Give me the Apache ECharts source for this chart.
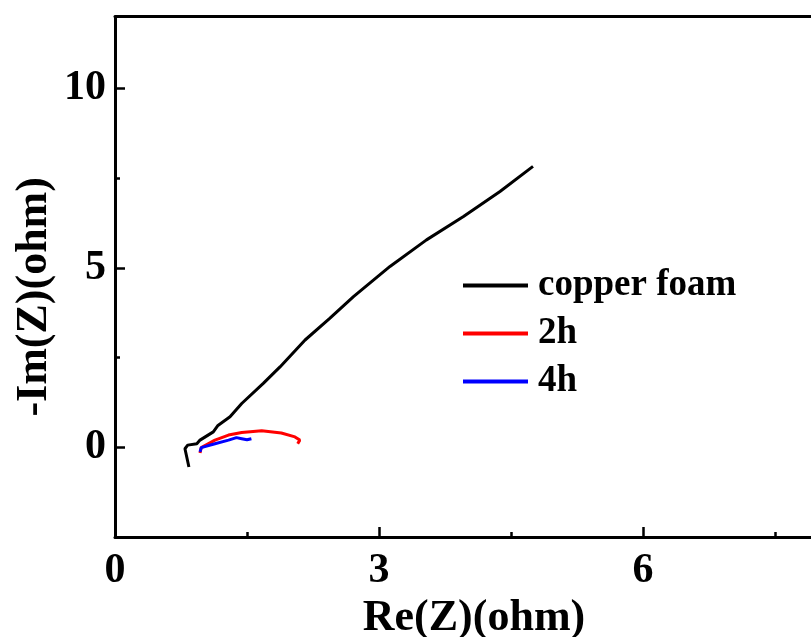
<!DOCTYPE html>
<html>
<head>
<meta charset="utf-8">
<script src="https://cdn.jsdelivr.net/npm/echarts@6/dist/echarts.min.js"></script>
<style>
html,body{margin:0;padding:0;background:#fff;}
#chart{width:811px;height:637px;}
</style>
</head>
<body>
<div id="chart"></div>
<script>
// Data
var seriesNames = ['copper foam', '2h', '4h'];
var copperRe = [0.84, 0.795, 0.826, 0.93, 0.966, 1.117, 1.17, 1.307, 1.44, 1.685, 1.875, 2.16, 2.44, 2.71, 3.125, 3.54, 3.96, 4.375, 4.75];
var copperIm = [-0.55, -0.04, 0.06, 0.10, 0.2, 0.43, 0.61, 0.85, 1.22, 1.78, 2.24, 2.99, 3.59, 4.20, 5.04, 5.78, 6.43, 7.13, 7.83];
var h2Re = [0.966, 0.98, 1.136, 1.29, 1.44, 1.667, 1.89, 2.045, 2.10, 2.076];
var h2Im = [-0.16, -0.01, 0.2, 0.34, 0.41, 0.46, 0.40, 0.29, 0.2, 0.10];
var h4Re = [0.966, 0.98, 1.136, 1.29, 1.38, 1.44, 1.50, 1.55];
var h4Im = [-0.13, -0.01, 0.10, 0.2, 0.27, 0.24, 0.21, 0.24];
var xTicks = [0, 3, 6, 9];
var yTicks = [0, 5, 10];

function pairs(xs, ys){ return xs.map(function(x,i){ return [x, ys[i]]; }); }

var font = '"Liberation Serif", "Times New Roman", serif';
var chart = echarts.init(document.getElementById('chart'), null, {renderer:'canvas'});
chart.setOption({
  backgroundColor: '#fff',
  animation: false,
  grid: [
    { left: 115, top: 16.7, height: 520.3, width: 792, containLabel: false, outerBoundsMode: 'none' },
    // helper grid spanning y = 0 .. 12 so major ticks fall on 0, 5, 10
    { left: 115, top: 16.7, height: 430.6, width: 792, containLabel: false, outerBoundsMode: 'none' }
  ],
  legend: {
    orient: 'vertical', left: 463, top: 267, padding: 0, itemWidth: 65, itemHeight: 4, itemGap: 11,
    icon: 'rect',
    data: seriesNames,
    textStyle: { fontFamily: font, fontWeight: 'bold', fontSize: 37, lineHeight: 37, color: '#000', padding: [0, 0, 0, 5] }
  },
  xAxis: [{
    gridIndex: 0, type: 'value', min: 0, max: 9, interval: 3,
    name: 'Re(Z)(ohm)', nameLocation: 'middle', nameGap: 50,
    nameTextStyle: { fontFamily: font, fontWeight: 'bold', fontSize: 44, color: '#000', padding: [0, 74, 0, 0] },
    axisLine: { show: true, onZero: false, lineStyle: { color: '#000', width: 3 } },
    axisTick: { show: true, inside: true, length: 10, lineStyle: { color: '#000', width: 2.5 } },
    minorTick: { show: true, splitNumber: 2, length: 5, lineStyle: { color: '#000', width: 2.5 } },
    splitLine: { show: false },
    axisLabel: { fontFamily: font, fontWeight: 'bold', fontSize: 42, color: '#000', margin: 13,
      formatter: function(v){ return xTicks.indexOf(v) >= 0 ? String(v) : ''; } }
  }, {
    gridIndex: 0, type: 'value', min: 0, max: 9, interval: 3, position: 'top',
    axisLine: { show: true, onZero: false, lineStyle: { color: '#000', width: 3 } },
    axisTick: { show: false }, axisLabel: { show: false }, splitLine: { show: false }
  }, {
    gridIndex: 1, type: 'value', min: 0, max: 9, show: false
  }],
  yAxis: [{
    gridIndex: 0, type: 'value', min: -2.5, max: 12, interval: 2.5,
    name: '-Im(Z)(ohm)', nameLocation: 'middle', nameGap: 58,
    nameTextStyle: { fontFamily: font, fontWeight: 'bold', fontSize: 44, color: '#000', padding: [0, 40, 0, 0] },
    axisLine: { show: true, onZero: false, lineStyle: { color: '#000', width: 3 } },
    axisTick: { show: true, inside: true, length: 5, lineStyle: { color: '#000', width: 2.5 } },
    splitLine: { show: false },
    axisLabel: { show: false }
  }, {
    gridIndex: 1, type: 'value', min: 0, max: 12, interval: 5,
    axisLine: { show: false, onZero: false },
    axisTick: { show: true, inside: true, length: 10, lineStyle: { color: '#000', width: 2.5 } },
    splitLine: { show: false },
    axisLabel: { fontFamily: font, fontWeight: 'bold', fontSize: 42, color: '#000', margin: 9,
      showMaxLabel: false,
      formatter: function(v){ return yTicks.indexOf(v) >= 0 ? String(v) : ''; } }
  }],
  series: [
    { name: seriesNames[0], type: 'line', data: pairs(copperRe, copperIm), showSymbol: false, symbol: 'none',
      lineStyle: { color: '#000', width: 3 }, itemStyle: { color: '#000' } },
    { name: seriesNames[1], type: 'line', data: pairs(h2Re, h2Im), showSymbol: false, symbol: 'none',
      lineStyle: { color: '#ff0000', width: 3 }, itemStyle: { color: '#ff0000' } },
    { name: seriesNames[2], type: 'line', data: pairs(h4Re, h4Im), showSymbol: false, symbol: 'none',
      lineStyle: { color: '#0000ff', width: 3 }, itemStyle: { color: '#0000ff' } }
  ]
});
</script>
</body>
</html>
